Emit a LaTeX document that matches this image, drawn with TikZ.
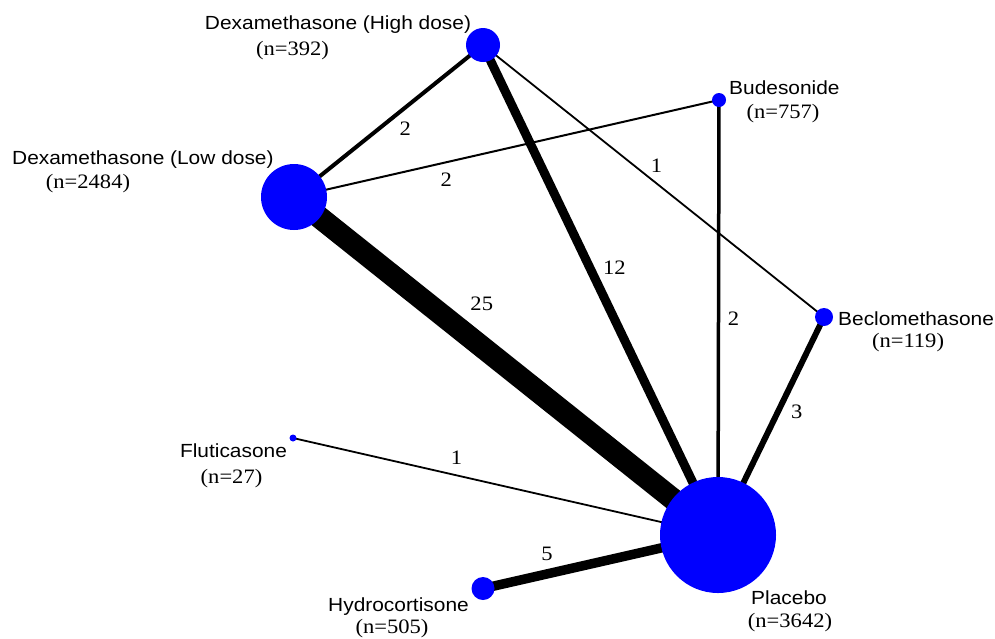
\documentclass[tikz,border=0pt]{standalone}
\usepackage{fontspec}
\setmainfont{Liberation Serif}
\newfontfamily\drugfont{Liberation Sans}[FakeStretch=1.1]
\newfontfamily\numfont{Liberation Serif}[FakeStretch=1.1]
\usetikzlibrary{backgrounds}

\begin{document}
\begin{tikzpicture}[x=1pt, y=-1pt,
    main/.style = {circle, fill=blue, inner sep=0pt},
    drug/.style = {font=\drugfont\fontsize{19}{22}\selectfont, inner sep=0pt},
    nsize/.style = {font=\numfont\fontsize{20.5}{24}\selectfont, inner sep=0pt, anchor=base},
    studies/.style = {font=\numfont\fontsize{20.5}{24}\selectfont, inner sep=0pt}]
      \useasboundingbox (0,0) rectangle (995,638);

      % treatments
      \node[main, minimum size=34pt]  (dh)  at (483,45)   {};
      \node[main, minimum size=14pt]  (bud) at (719,100)  {};
      \node[main, minimum size=66pt]  (dl)  at (294,197)  {};
      \node[main, minimum size=18pt]  (bec) at (824,317)  {};
      \node[main, minimum size=7pt]   (flu) at (293,438)  {};
      \node[main, minimum size=116pt] (pla) at (718,535)  {};
      \node[main, minimum size=23pt]  (hyd) at (483,588.5) {};

      % names and sample sizes
      \node[drug, anchor=base]      (dhname)  at (338,29)  {Dexamethasone (High dose)};
      \node[nsize]                  (dhn)     at (292.5,55) {(n=392)};
      \node[drug, anchor=base west] (budname) at (729,94)  {Budesonide};
      \node[nsize]                  (budn)    at (783,118) {(n=757)};
      \node[drug, anchor=base west] (dlname)  at (12,164)  {Dexamethasone (Low dose)};
      \node[nsize]                  (dln)     at (88,188)  {(n=2484)};
      \node[drug, anchor=base west] (becname) at (838,325) {Beclomethasone};
      \node[nsize]                  (becn)    at (908,347) {(n=119)};
      \node[drug, anchor=base]      (fluname) at (233.5,457) {Fluticasone};
      \node[nsize]                  (flun)    at (231.5,483) {(n=27)};
      \node[drug, anchor=base]      (hydname) at (398.5,611) {Hydrocortisone};
      \node[nsize]                  (hydn)    at (392,633) {(n=505)};
      \node[drug, anchor=base]      (planame) at (789,604) {Placebo};
      \node[nsize]                  (plan)    at (790,627) {(n=3642)};

      % comparisons
      \begin{scope}[on background layer]
      \draw[line width=4pt]   (dl.center)  -- node[studies, pos=.589, yshift=-20.8pt] {2} (dh.center);
      \draw[line width=2pt]   (dl.center)  -- node[studies, pos=.358, yshift=-17.4pt] {2} (bud.center);
      \draw[line width=1.8pt] (dh.center)  -- node[studies, pos=.509, yshift=17.5pt] {1} (bec.center);
      \draw[line width=9pt]   (dh.center)  -- node[studies, pos=.455, xshift=24.5pt] {12} (pla.center);
      \draw[line width=22pt]  (dl.center)  -- node[studies, pos=.394, xshift=20.7pt, yshift=26.1pt] {25} (pla.center);
      \draw[line width=3.5pt] (bud.center) -- node[studies, pos=.503, xshift=15pt] {2} (pla.center);
      \draw[line width=6pt]   (bec.center) -- node[studies, pos=.436, xshift=19pt] {3} (pla.center);
      \draw[line width=1.8pt] (flu.center) -- node[studies, pos=.385, yshift=17.9pt] {1} (pla.center);
      \draw[line width=9.5pt] (hyd.center) -- node[studies, pos=.272, yshift=20.3pt] {5} (pla.center);
      \end{scope}
    \end{tikzpicture}
\end{document}
